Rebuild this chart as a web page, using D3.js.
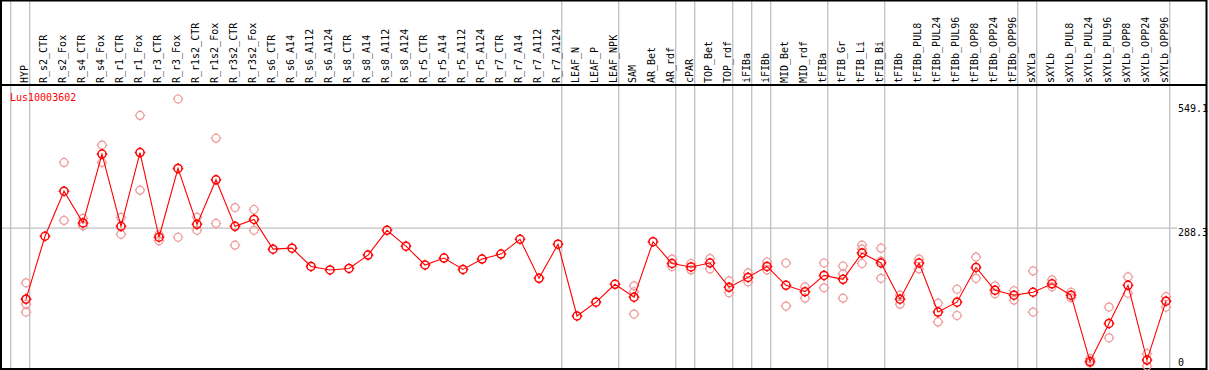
<html>
  <head>
    <meta charset="utf-8">
    <title>Lus10003602</title>
    <style>
      body { margin: 0; background: #fff; }
      text { font-family: "DejaVu Sans Mono", monospace; font-size: 10px; }
    </style>
  </head>
  <body>
    <script src="https://d3js.org/d3.v7.min.js" charset="utf-8"></script>
    <script>

    var width = 1209,
        height = 370;

    var geneName = "Lus10003602";

    var categories = ["HYP","R_s2_CTR","R_s2_Fox","R_s4_CTR","R_s4_Fox","R_r1_CTR","R_r1_Fox","R_r3_CTR","R_r3_Fox",
      "R_r1s2_CTR","R_r1s2_Fox","R_r3s2_CTR","R_r3s2_Fox","R_s6_CTR","R_s6_A14","R_s6_A112","R_s6_A124",
      "R_s8_CTR","R_s8_A14","R_s8_A112","R_s8_A124","R_r5_CTR","R_r5_A14","R_r5_A112","R_r5_A124",
      "R_r7_CTR","R_r7_A14","R_r7_A112","R_r7_A124","LEAF_N","LEAF_P","LEAF_NPK","SAM","AR_Bet","AR_rdf",
      "cPAR","TOP_Bet","TOP_rdf","iFIBa","iFIBb","MID_Bet","MID_rdf","tFIBa","tFIB_Gr","tFIB_Li","tFIB_Bi",
      "tFIBb","tFIBb_PUL8","tFIBb_PUL24","tFIBb_PUL96","tFIBb_OPP8","tFIBb_OPP24","tFIBb_OPP96",
      "sXYLa","sXYLb","sXYLb_PUL8","sXYLb_PUL24","sXYLb_PUL96","sXYLb_OPP8","sXYLb_OPP24","sXYLb_OPP96"];

    // mean expression per sample
    var means = [145, 272, 363, 299, 438, 292, 441, 270, 409, 296, 386, 292, 306,
      246, 248, 211, 204, 207, 234, 284, 252, 214, 228, 205, 226, 236, 266, 187, 256,
      111, 139, 175, 149, 261, 217, 210, 218, 169, 189, 211, 173, 160, 193, 185, 238, 218,
      145, 218, 119, 139, 209, 163, 153, 159, 176, 153, 19, 96, 173, 22, 141];

    // replicate values (empty = single sample)
    var replicates = [[178,145,135,119], [], [421,304], [308,293], [456,421], [310,276], [516,365],
      [275,263], [549.1,270], [310,284], [470,298], [330,254], [326,284],
      [], [], [], [], [], [], [], [], [], [], [], [], [], [], [], [],
      [], [], [], [172,160,115], [], [226,211], [217,204], [227,206], [182,158],
      [198,180], [220,204], [218,131], [170,147], [218,168], [212,196,147], [254,246,217],
      [248,222,187], [153,135], [226,206], [137,99], [165,112], [230,187], [172,156], [162,143],
      [202,119], [184,170], [159,148], [25,16], [129,67], [190,157], [35,10], [150,129]];

    // group separators (index of first sample after the line)
    var groupBreaks = [0, 1, 29, 32, 35, 36, 38, 39, 40, 43, 46, 53, 54, 61];

    var yTicks = [0, 288.3, 549.1];
    var midLine = 288.3;

    var svg = d3.select("body").append("svg")
        .attr("width", width)
        .attr("height", height);

    var x = d3.scaleBand().domain(categories).range([11.7, 1170.7]);
    var px = function(c) { return x(c) + 14.3; };
    var y = d3.scaleLinear().domain([0, 549.1]).range([371, 99]);

    // vertical group lines
    svg.selectAll(".gline").data(groupBreaks).enter().append("line")
        .attr("x1", function(d){ return 11.7 + d * x.bandwidth() - 1; })
        .attr("x2", function(d){ return 11.7 + d * x.bandwidth() - 1; })
        .attr("y1", 0).attr("y2", height)
        .attr("stroke", "#c0c0c0").attr("stroke-width", 1.3);

    // mid horizontal line
    svg.append("line")
        .attr("x1", 1).attr("x2", 1177)
        .attr("y1", y(midLine)).attr("y2", y(midLine))
        .attr("stroke", "#c0c0c0").attr("stroke-width", 1.3);

    // frame
    svg.append("rect").attr("x", 1).attr("y", 0.5).attr("width", 1205.5).attr("height", 368.5)
        .attr("fill", "none").attr("stroke", "black").attr("stroke-width", 2);
    svg.append("line").attr("x1", 1).attr("x2", 1207).attr("y1", 85).attr("y2", 85)
        .attr("stroke", "black").attr("stroke-width", 2);

    // sample labels
    svg.selectAll(".lab").data(categories).enter().append("text")
        .attr("transform", function(d){ return "translate(" + (px(d) + 2) + ",83) rotate(-90)"; })
        .attr("fill", "black")
        .text(function(d){ return d; });

    svg.append("text").attr("x", 10).attr("y", 101).attr("fill", "red").text(geneName);

    // value labels at right
    svg.selectAll(".ylab").data(yTicks).enter().append("text")
        .attr("x", 1178)
        .attr("y", function(d){ return Math.min(Math.max(y(d) + 8, 112), 366); })
        .attr("fill", "black")
        .text(function(d){ return d; });

    function marker(g, r, tick) {
        g.append("circle").attr("r", r).attr("fill", "none");
        g.append("path").attr("d",
            "M0," + (-r - tick) + "V" + (-r) + "M0," + r + "V" + (r + tick) +
            "M" + (-r - tick) + ",0H" + (-r) + "M" + r + ",0H" + (r + tick));
    }

    // replicates
    var repData = [];
    categories.forEach(function(c, i){
        replicates[i].forEach(function(v){ repData.push({c: c, v: v}); });
    });
    svg.selectAll(".rep").data(repData).enter().append("g")
        .attr("transform", function(d){ return "translate(" + px(d.c) + "," + y(d.v) + ")"; })
        .attr("stroke", "#ee9a9a").attr("stroke-width", 1.2)
        .each(function(){ marker(d3.select(this), 4, 1.3); });

    // mean line
    var line = d3.line()
        .x(function(d, i){ return px(categories[i]); })
        .y(function(d){ return y(d); });
    svg.append("path").datum(means)
        .attr("d", line)
        .attr("fill", "none").attr("stroke", "red").attr("stroke-width", 1.1);

    svg.selectAll(".mean").data(means).enter().append("g")
        .attr("transform", function(d, i){ return "translate(" + px(categories[i]) + "," + y(d) + ")"; })
        .attr("stroke", "red").attr("stroke-width", 1.5)
        .each(function(){ marker(d3.select(this), 4, 1.3); });

    </script>
  </body>
</html>
